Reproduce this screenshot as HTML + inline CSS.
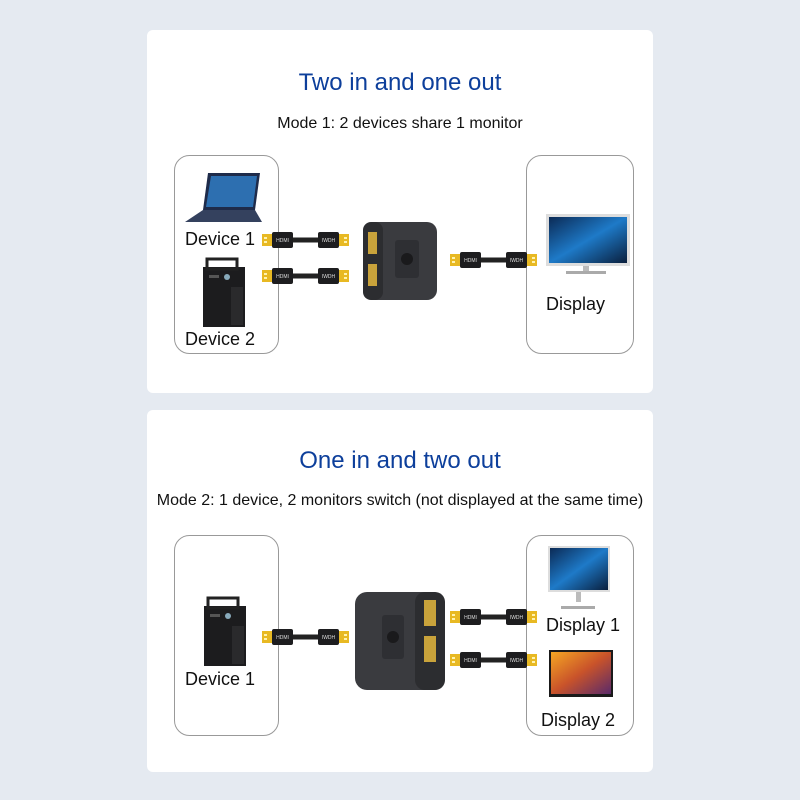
<!DOCTYPE html>
<html><head><meta charset="utf-8"><style>
html,body{margin:0;padding:0;background:#e5eaf1;}
svg{display:block}
text{font-family:"Liberation Sans",Arial,sans-serif}
</style></head><body>
<svg width="800" height="800" viewBox="0 0 800 800" xmlns="http://www.w3.org/2000/svg">
<defs>
<g id="cab">
  <rect x="0" y="-6" width="10" height="12" fill="#e8b923"/>
  <rect x="2" y="-3" width="3" height="2" fill="#fff3b0"/>
  <rect x="2" y="1" width="3" height="2" fill="#fff3b0"/>
  <rect x="10" y="-8" width="21" height="16" rx="2" fill="#1d1d1f"/>
  <text x="20.5" y="2" font-size="5" fill="#ddd" text-anchor="middle">HDMI</text>
  <rect x="31" y="-2.5" width="25" height="5" fill="#222"/>
  <rect x="56" y="-8" width="21" height="16" rx="2" fill="#1d1d1f"/>
  <text x="66.5" y="2" font-size="5" fill="#ddd" text-anchor="middle">IWDH</text>
  <rect x="77" y="-6" width="10" height="12" fill="#e8b923"/>
  <rect x="82" y="-3" width="3" height="2" fill="#fff3b0"/>
  <rect x="82" y="1" width="3" height="2" fill="#fff3b0"/>
</g>
<g id="tower">
  <rect x="0" y="8" width="42" height="60" fill="#1c1c1e"/>
  <rect x="4" y="0" width="30" height="10" fill="none" stroke="#222" stroke-width="3"/>
  <rect x="6" y="16" width="10" height="3" fill="#555"/>
  <circle cx="24" cy="18" r="3" fill="#8ab"/>
  <rect x="28" y="28" width="12" height="38" fill="#2a2a2c"/>
</g>
<linearGradient id="scr" x1="0" y1="0" x2="1" y2="1">
  <stop offset="0" stop-color="#0b2a55"/><stop offset="0.5" stop-color="#1e7ac8"/><stop offset="1" stop-color="#0a1f3d"/>
</linearGradient>
<linearGradient id="tv" x1="0" y1="0" x2="1" y2="1">
  <stop offset="0" stop-color="#f5a623"/><stop offset="0.5" stop-color="#c9532a"/><stop offset="1" stop-color="#5a2a6a"/>
</linearGradient>
</defs>

<rect x="147" y="30" width="506" height="363" rx="6" fill="#fff"/>
<text x="400" y="90" font-size="24" fill="#0d3f9b" text-anchor="middle">Two in and one out</text>
<text x="400" y="128" font-size="16" fill="#111" text-anchor="middle">Mode 1: 2 devices share 1 monitor</text>
<rect x="174.5" y="155.5" width="104" height="198" rx="15" fill="none" stroke="#999"/>
<rect x="526.5" y="155.5" width="107" height="198" rx="15" fill="none" stroke="#999"/>
<polygon points="208,173 260,173 255,210 203,210" fill="#1e2b4a"/>
<polygon points="211,176 257,176 253,207 206,207" fill="#2d6fb0"/>
<polygon points="203,210 255,210 262,222 185,222" fill="#34415e"/>
<text x="185" y="245" font-size="18" fill="#111">Device 1</text>
<use href="#tower" x="203" y="259"/>
<text x="185" y="345" font-size="18" fill="#111">Device 2</text>
<use href="#cab" x="262" y="240"/>
<use href="#cab" x="262" y="276"/>
<rect x="363" y="222" width="74" height="78" rx="10" fill="#3a3b3f"/>
<rect x="363" y="222" width="20" height="78" rx="8" fill="#2c2d30"/>
<rect x="368" y="232" width="9" height="22" fill="#c9a33b"/>
<rect x="368" y="264" width="9" height="22" fill="#c9a33b"/>
<rect x="395" y="240" width="24" height="38" rx="3" fill="#2e2f33"/>
<circle cx="407" cy="259" r="6" fill="#1a1a1c"/>
<use href="#cab" x="450" y="260"/>
<rect x="546" y="214" width="84" height="52" fill="#ddd"/>
<rect x="549" y="217" width="78" height="46" fill="url(#scr)"/>
<rect x="583" y="266" width="6" height="6" fill="#bbb"/>
<rect x="566" y="271" width="40" height="3" fill="#aaa"/>
<text x="546" y="310" font-size="18" fill="#111">Display</text>

<rect x="147" y="410" width="506" height="362" rx="6" fill="#fff"/>
<text x="400" y="468" font-size="24" fill="#0d3f9b" text-anchor="middle">One in and two out</text>
<text x="400" y="505" font-size="16" fill="#111" text-anchor="middle">Mode 2: 1 device, 2 monitors switch (not displayed at the same time)</text>
<rect x="174.5" y="535.5" width="104" height="200" rx="15" fill="none" stroke="#999"/>
<rect x="526.5" y="535.5" width="107" height="200" rx="15" fill="none" stroke="#999"/>
<use href="#tower" x="204" y="598"/>
<text x="185" y="685" font-size="18" fill="#111">Device 1</text>
<use href="#cab" x="262" y="637"/>
<rect x="355" y="592" width="90" height="98" rx="12" fill="#3a3b3f"/>
<rect x="415" y="592" width="30" height="98" rx="10" fill="#2c2d30"/>
<rect x="424" y="600" width="12" height="26" fill="#c9a33b"/>
<rect x="424" y="636" width="12" height="26" fill="#c9a33b"/>
<rect x="382" y="615" width="22" height="44" rx="3" fill="#2e2f33"/>
<circle cx="393" cy="637" r="6" fill="#1a1a1c"/>
<use href="#cab" x="450" y="617"/>
<use href="#cab" x="450" y="660"/>
<rect x="548" y="546" width="62" height="46" fill="#ddd"/>
<rect x="550" y="548" width="58" height="42" fill="url(#scr)"/>
<rect x="576" y="592" width="5" height="10" fill="#bbb"/>
<rect x="561" y="606" width="34" height="3" fill="#aaa"/>
<text x="546" y="631" font-size="18" fill="#111">Display 1</text>
<rect x="549" y="650" width="64" height="47" fill="#1a1a1a"/>
<rect x="551" y="652" width="60" height="42" fill="url(#tv)"/>
<text x="541" y="726" font-size="18" fill="#111">Display 2</text>
</svg>
</body></html>
